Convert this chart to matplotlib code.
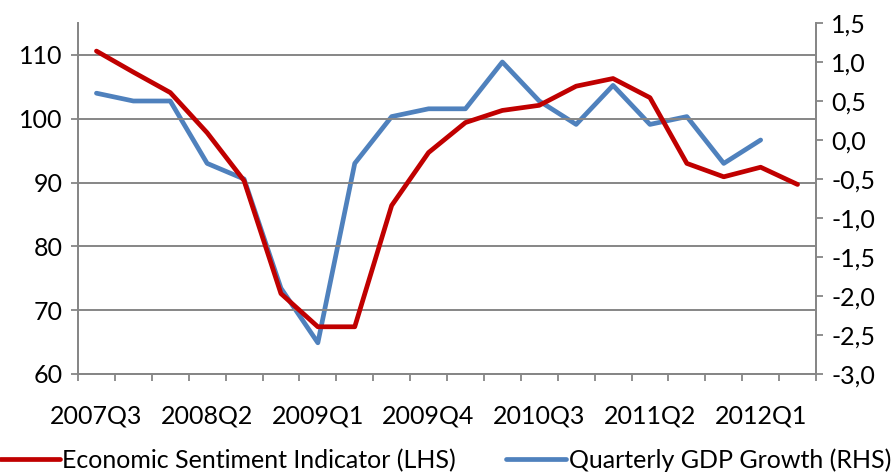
import matplotlib.pyplot as plt
import numpy as np

quarters = ['2007Q3', '2007Q4', '2008Q1', '2008Q2', '2008Q3', '2008Q4', '2009Q1',
            '2009Q2', '2009Q3', '2009Q4', '2010Q1', '2010Q2', '2010Q3', '2010Q4',
            '2011Q1', '2011Q2', '2011Q3', '2011Q4', '2012Q1', '2012Q2']
esi = [110.6, 107.3, 104.1, 97.8, 90.3, 72.6, 67.4, 67.4, 86.4, 94.7,
       99.4, 101.3, 102.1, 105.1, 106.3, 103.3, 93.0, 90.9, 92.4, 89.7]
gdp = [0.6, 0.5, 0.5, -0.3, -0.5, -1.9, -2.6, -0.3, 0.3, 0.4,
       0.4, 1.0, 0.5, 0.2, 0.7, 0.2, 0.3, -0.3, 0.0]

plt.rcParams['font.family'] = ['Lato', 'DejaVu Sans']
grey = '#868686'
red = '#C00000'
blue = '#4F81BD'

fig = plt.figure(figsize=(8.91, 4.72), dpi=100)
ax = fig.add_axes([78 / 891, 1 - 374 / 472, (816 - 78) / 891, (374 - 23) / 472])
ax2 = ax.twinx()

x = np.arange(len(quarters))
ax.plot(x, esi, color=red, lw=3.4, solid_capstyle='round', solid_joinstyle='round', zorder=3,
        label='Economic Sentiment Indicator (LHS)')
ax2.plot(x[:len(gdp)], gdp, color=blue, lw=3.4, solid_capstyle='round', solid_joinstyle='round',
         label='Quarterly GDP Growth (RHS)')

ax.set_xlim(-0.5, len(quarters) - 0.5)
ax.set_ylim(60, 115)
ax.set_yticks([60, 70, 80, 90, 100, 110])
ax2.set_ylim(-3.0, 1.5)
ax2.set_yticks(np.arange(-3.0, 1.51, 0.5))
ax2.set_yticklabels([f'{v:.1f}'.replace('.', ',') for v in np.arange(-3.0, 1.51, 0.5)])

ax.set_xticks(x[::3])
ax.set_xticklabels(quarters[::3])
ax.set_xticks(np.arange(-0.5, len(quarters), 1), minor=True)
ax.tick_params(axis='x', which='major', length=0, pad=22, labelsize=18)
ax.tick_params(axis='x', which='minor', length=5, color=grey, width=1.3)
ax.tick_params(axis='y', length=5, color=grey, width=1.3, labelsize=18, pad=6)
ax2.tick_params(axis='y', length=5, color=grey, width=1.3, labelsize=18, pad=6)

ax.grid(axis='y', color=grey, lw=1.4)
ax.set_axisbelow(True)
for a in (ax, ax2):
    a.spines['top'].set_visible(False)
    for s in ('left', 'right', 'bottom'):
        a.spines[s].set_color(grey)
        a.spines[s].set_linewidth(1.3)
ax.set_zorder(ax2.get_zorder() + 1)
ax.patch.set_visible(False)

h1, l1 = ax.get_legend_handles_labels()
h2, l2 = ax2.get_legend_handles_labels()
fig.legend(h1 + h2, l1 + l2, loc='center', bbox_to_anchor=(0.5, 1 - 460 / 472), ncol=2,
           frameon=False, fontsize=18, handlelength=2.4, handletextpad=0.1, columnspacing=2.0,
           borderaxespad=0, borderpad=0)

fig.savefig('out.png', dpi=100)
